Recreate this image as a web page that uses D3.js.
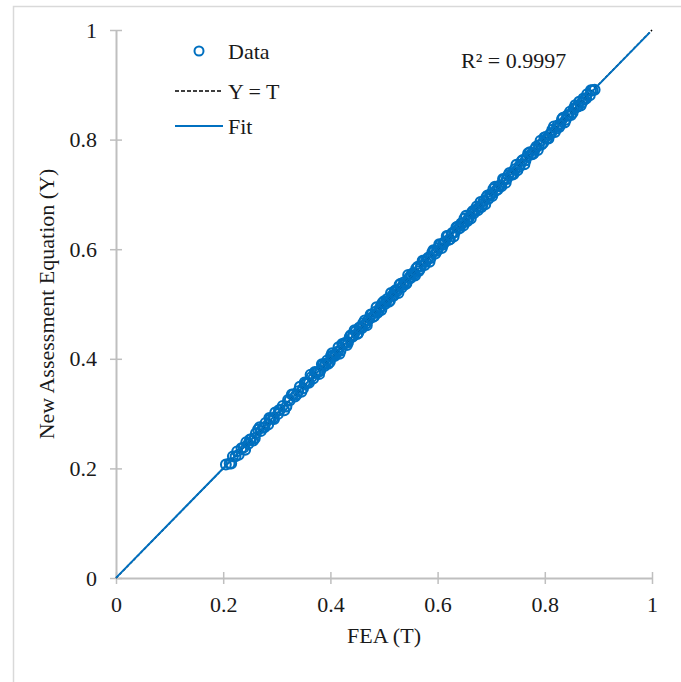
<!DOCTYPE html>
<html>
<head>
<meta charset="utf-8">
<script src="https://cdn.jsdelivr.net/npm/d3@7/dist/d3.min.js"></script>
<style>
  html, body { margin: 0; padding: 0; background: #fff; }
  svg { display: block; }
</style>
</head>
<body>
<svg id="chart" width="681" height="682"></svg>
<script>
// FEA result (T) for each case
const fea = [0.205,0.212,0.218,0.223,0.229,0.234,0.238,0.243,0.247,0.252,0.256,0.261,0.265,0.270,0.274,0.279,0.284,0.288,0.293,0.297,
  0.302,0.306,0.311,0.318,0.324,0.331,0.337,0.343,0.349,0.354,0.360,0.365,0.371,0.376,0.381,0.386,0.391,0.396,0.401,0.405,
  0.410,0.415,0.419,0.424,0.429,0.433,0.438,0.443,0.447,0.452,0.456,0.461,0.466,0.470,0.475,0.479,0.484,0.488,0.493,0.497,
  0.502,0.506,0.511,0.515,0.520,0.524,0.529,0.533,0.538,0.542,0.547,0.551,0.556,0.560,0.565,0.569,0.574,0.578,0.583,0.587,
  0.592,0.596,0.601,0.605,0.610,0.614,0.619,0.623,0.628,0.632,0.637,0.641,0.646,0.650,0.655,0.659,0.664,0.668,0.673,0.677,
  0.682,0.686,0.691,0.695,0.700,0.704,0.709,0.714,0.719,0.724,0.729,0.734,0.739,0.744,0.749,0.754,0.759,0.764,0.769,0.774,
  0.779,0.784,0.789,0.794,0.799,0.804,0.809,0.814,0.819,0.824,0.829,0.834,0.839,0.844,0.849,0.854,0.859,0.864,0.869,0.874,
  0.879,0.884,0.889,0.893,
  0.215,0.226,0.241,0.250,0.259,0.268,0.277,0.286,0.295,0.304,
  0.314,0.321,0.328,0.334,0.340,0.346,0.352,0.357,0.363,0.368,0.373,0.379,0.384,0.389,0.394,0.399,
  0.403,0.408,0.413,0.417,0.422,0.427,0.431,0.436,0.441,0.445,0.450,0.454,0.459,0.464,0.468,0.473,0.477,0.482,0.486,0.491,0.495,0.500,
  0.504,0.509,0.513,0.518,0.522,0.527,0.531,0.536,0.540,0.545,0.549,0.554,0.558,0.563,0.567,0.572,0.576,0.581,0.585,0.590,0.594,0.599,
  0.603,0.608,0.612,0.617,0.621,0.626,0.630,0.635,0.639,0.644,0.648,0.653,0.657,0.662,0.666,0.671,0.675,0.680,0.684,0.689,0.693,0.698,0.702,
  0.707,0.712,0.717,0.722,0.727,0.732,0.737,0.742,0.747,0.752,0.757,0.762,0.767,0.772,0.777,0.782,0.787,0.792,0.797,0.802,
  0.807,0.812,0.817,0.822,0.827,0.832,0.837,0.842,0.847,0.852,0.857,0.862,0.867,0.872,0.877,0.886];
// New assessment equation result (Y) for the same cases
const nae = [0.207,0.209,0.222,0.222,0.225,0.237,0.238,0.248,0.245,0.253,0.251,0.264,0.271,0.268,0.274,0.283,0.280,0.290,0.292,0.302,
  0.299,0.307,0.314,0.313,0.324,0.335,0.335,0.349,0.346,0.355,0.356,0.367,0.376,0.375,0.378,0.389,0.391,0.391,0.405,0.406,
  0.408,0.421,0.415,0.426,0.429,0.430,0.443,0.442,0.450,0.447,0.457,0.465,0.464,0.470,0.481,0.476,0.486,0.484,0.494,0.502,
  0.500,0.509,0.506,0.515,0.524,0.523,0.535,0.530,0.540,0.538,0.548,0.554,0.554,0.565,0.560,0.569,0.578,0.577,0.585,0.584,
  0.598,0.592,0.602,0.608,0.608,0.614,0.624,0.618,0.630,0.631,0.641,0.638,0.647,0.656,0.651,0.659,0.667,0.666,0.678,0.676,
  0.677,0.688,0.695,0.692,0.700,0.710,0.707,0.715,0.715,0.727,0.728,0.739,0.736,0.746,0.744,0.754,0.763,0.762,0.775,0.773,
  0.775,0.787,0.790,0.791,0.804,0.802,0.809,0.818,0.814,0.826,0.828,0.840,0.836,0.845,0.845,0.857,0.859,0.869,0.867,0.873,
  0.883,0.881,0.890,0.891,
  0.209,0.231,0.234,0.253,0.255,0.275,0.275,0.292,0.290,0.306,
  0.306,0.325,0.335,0.331,0.341,0.340,0.357,0.356,0.371,0.364,0.375,0.372,0.390,0.387,0.397,0.394,
  0.410,0.405,0.413,0.409,0.427,0.429,0.425,0.440,0.440,0.452,0.445,0.457,0.456,0.470,0.461,0.474,0.481,0.478,0.494,0.489,0.489,0.505,
  0.504,0.504,0.520,0.515,0.525,0.520,0.537,0.535,0.536,0.553,0.547,0.556,0.552,0.568,0.564,0.579,0.571,0.582,0.577,0.594,0.597,0.597,
  0.609,0.602,0.612,0.624,0.617,0.628,0.623,0.640,0.638,0.647,0.643,0.661,0.654,0.656,0.670,0.672,0.671,0.686,0.682,0.682,0.698,0.700,0.697,
  0.714,0.709,0.717,0.728,0.721,0.735,0.736,0.737,0.754,0.750,0.761,0.755,0.769,0.777,0.773,0.783,0.781,0.798,0.794,0.805,0.802,
  0.812,0.824,0.820,0.823,0.837,0.831,0.844,0.851,0.849,0.863,0.861,0.862,0.875,0.875,0.890];

const ticks = [0, 0.2, 0.4, 0.6, 0.8, 1];
const fitSlope = 0.9993, fitIntercept = 0.0003;
const rSquared = "0.9997";
const legendItems = ["Data", "Y = T", "Fit"];

const blue = "#0070c0";
const axisGray = "#bfbfbf";
const serif = "'Liberation Serif', 'Times New Roman', Times, serif";
const fontSize = "22px";

const svg = d3.select("#chart");

// outer frame
svg.append("rect").attr("x", 13.5).attr("y", 6.5).attr("width", 700).attr("height", 700)
  .attr("fill", "none").attr("stroke", "#d9d9d9").attr("stroke-width", 1.5);

const x = d3.scaleLinear().domain([0, 1]).range([116, 652]);
const y = d3.scaleLinear().domain([0, 1]).range([578, 30]);

// axes with ticks crossing the axis line
const fmt = d => d === 0 || d === 1 ? String(d) : d.toFixed(1);
const xAxis = svg.append("g").attr("transform", `translate(0,${y(0)})`)
  .call(d3.axisBottom(x).tickValues(ticks).tickFormat(fmt).tickSizeInner(6).tickSizeOuter(0).tickPadding(9));
const yAxis = svg.append("g").attr("transform", `translate(${x(0)},0)`)
  .call(d3.axisLeft(y).tickValues(ticks).tickFormat(fmt).tickSizeInner(6).tickSizeOuter(0).tickPadding(13));
[xAxis, yAxis].forEach(g => {
  g.attr("font-family", null).attr("font-size", null);
  g.select(".domain").attr("stroke", axisGray).attr("stroke-width", 2);
  g.selectAll(".tick line").attr("stroke", axisGray).attr("stroke-width", 1.5);
});
xAxis.selectAll(".tick line").attr("y1", -6).attr("y2", 6);
yAxis.selectAll(".tick line").attr("x1", -6).attr("x2", 6);
xAxis.selectAll(".tick text").attr("dy", "0.85em");

// data points
svg.append("g").selectAll("circle").data(fea).join("circle")
  .attr("cx", d => x(d)).attr("cy", (d, i) => y(nae[i])).attr("r", 4.9)
  .attr("fill", "none").attr("stroke", blue).attr("stroke-width", 2.1);

// Y = T reference line
svg.append("line").attr("x1", x(0)).attr("y1", y(0)).attr("x2", x(1)).attr("y2", y(1))
  .attr("stroke", "#000").attr("stroke-width", 1.5).attr("stroke-dasharray", "3,2");

// linear fit
svg.append("line").attr("x1", x(0)).attr("y1", y(fitIntercept))
  .attr("x2", x(0.996)).attr("y2", y(fitSlope * 0.996 + fitIntercept))
  .attr("stroke", blue).attr("stroke-width", 2);

// legend
const lg = svg.append("g");
lg.append("circle").attr("cx", 199).attr("cy", 51).attr("r", 4.5)
  .attr("fill", "none").attr("stroke", blue).attr("stroke-width", 2);
lg.append("line").attr("x1", 175).attr("x2", 223).attr("y1", 91).attr("y2", 91)
  .attr("stroke", "#000").attr("stroke-width", 1.5).attr("stroke-dasharray", "4,2");
lg.append("line").attr("x1", 175).attr("x2", 223).attr("y1", 126).attr("y2", 126)
  .attr("stroke", blue).attr("stroke-width", 2);
lg.selectAll("text").data(legendItems).join("text")
  .attr("x", 228).attr("y", (d, i) => [51, 91, 126][i]).attr("dy", "0.35em")
  .text(d => d);

// R² annotation
svg.append("text").attr("x", 461).attr("y", 60).attr("dy", "0.35em").text("R² = " + rSquared);

// axis titles
svg.append("text").attr("x", 384).attr("y", 635).attr("text-anchor", "middle").attr("dy", "0.35em")
  .text("FEA (T)");
svg.append("text").attr("transform", "translate(46,304) rotate(-90)").attr("text-anchor", "middle")
  .attr("dy", "0.35em").text("New Assessment Equation (Y)");

// shared text styling
svg.selectAll("text")
  .attr("font-family", serif).style("font-family", serif)
  .style("font-size", fontSize).attr("fill", "#1a1a1a");
</script>
</body>
</html>
